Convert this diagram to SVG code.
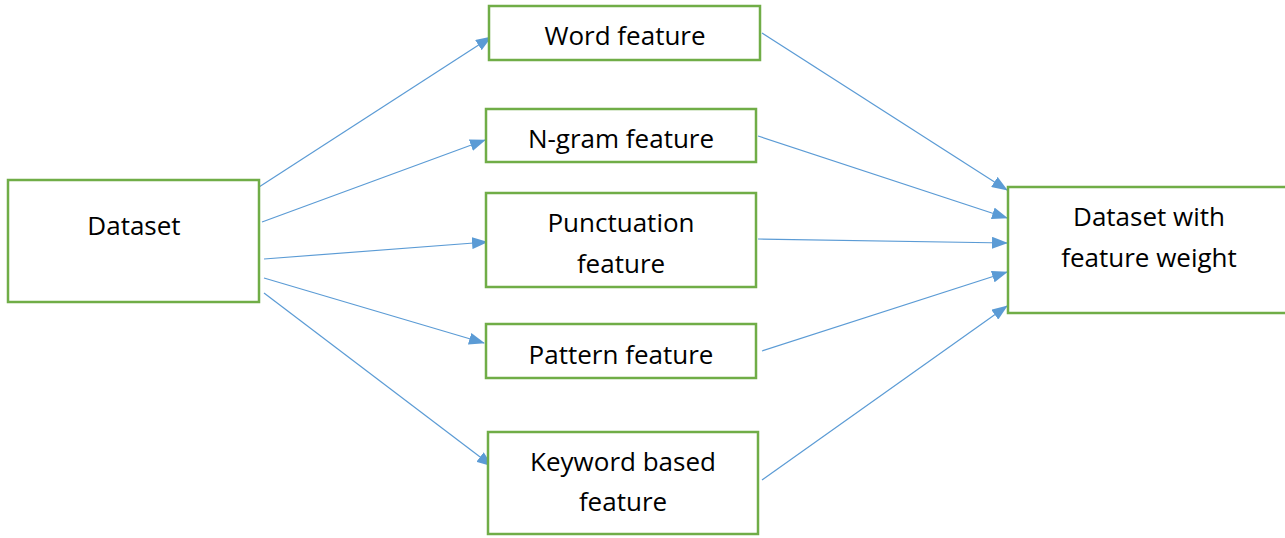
<svg xmlns="http://www.w3.org/2000/svg" width="1285" height="538" viewBox="0 0 1285 538">
<style>
.box{fill:#fff;stroke:#70AD47;stroke-width:2.5}
.t{font-family:"Open Sans","Noto Sans",sans-serif;font-size:26px;fill:#000;text-anchor:middle}
.c{stroke:#5B9BD5;stroke-width:1.2;fill:none;marker-end:url(#ah)}
</style>
<defs>
<marker id="ah" markerUnits="userSpaceOnUse" markerWidth="16" markerHeight="12" refX="15" refY="6" orient="auto">
<path d="M0,0 L16,6 L0,12 Z" fill="#5B9BD5"/>
</marker>
</defs>
<rect width="1285" height="538" fill="#fff"/>
<g id="connectors">
<line class="c" x1="259" y1="187" x2="491" y2="37"/>
<line class="c" x1="262" y1="222" x2="485" y2="140"/>
<line class="c" x1="264" y1="259" x2="487" y2="242"/>
<line class="c" x1="264" y1="278" x2="484" y2="343"/>
<line class="c" x1="264" y1="293" x2="492" y2="466"/>
<line class="c" x1="762" y1="33" x2="1007" y2="190"/>
<line class="c" x1="758" y1="136" x2="1007" y2="218"/>
<line class="c" x1="758" y1="239" x2="1007" y2="243"/>
<line class="c" x1="762" y1="351" x2="1007" y2="272"/>
<line class="c" x1="762" y1="480" x2="1007" y2="306"/>
</g>
<g id="dataset"><rect class="box" x="8" y="180" width="251" height="122"/><text class="t" x="134" y="235">Dataset</text></g>
<g id="word"><rect class="box" x="489" y="6" width="271" height="54"/><text class="t" x="625" y="45">Word feature</text></g>
<g id="ngram"><rect class="box" x="486" y="109" width="270" height="53"/><text class="t" x="621" y="148">N-gram feature</text></g>
<g id="punct"><rect class="box" x="486" y="193" width="270" height="94"/><text class="t" x="621" y="232">Punctuation</text><text class="t" x="621" y="273">feature</text></g>
<g id="pattern"><rect class="box" x="486" y="324" width="270" height="54"/><text class="t" x="621" y="364">Pattern feature</text></g>
<g id="keyword"><rect class="box" x="488" y="432" width="270" height="102"/><text class="t" x="623" y="471">Keyword based</text><text class="t" x="623" y="511">feature</text></g>
<g id="weighted"><rect class="box" x="1008" y="187" width="290" height="126"/><text class="t" x="1149" y="226">Dataset with</text><text class="t" x="1149" y="267">feature weight</text></g>
</svg>
